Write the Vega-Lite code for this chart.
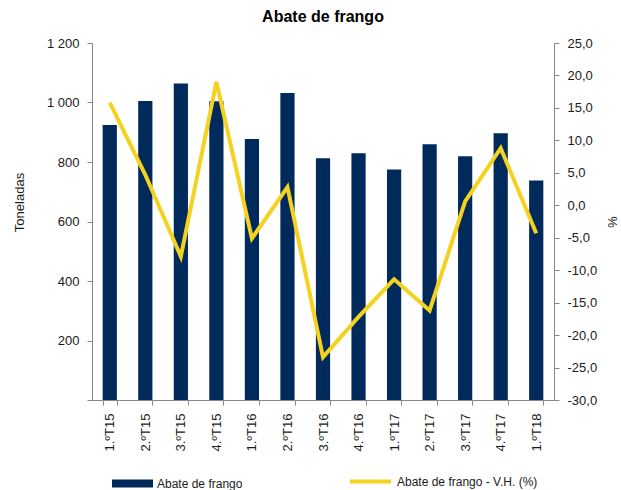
{
  "$schema": "https://vega.github.io/schema/vega-lite/v6.json",
  "autosize": {"type": "none"},
  "width": 462,
  "height": 357,
  "padding": {"left": 92, "top": 43, "right": 67, "bottom": 90},
  "title": {"text": "Abate de frango", "fontSize": 16, "fontWeight": "bold", "font": "Liberation Sans", "anchor": "middle", "frame": "group", "offset": 12, "color": "#000000"},
  "config": {
    "view": {"stroke": null},
    "font": "Liberation Sans",
    "axis": {"domainColor": "#888888", "tickColor": "#888888", "labelColor": "#1a1a1a", "labelFontSize": 13, "labelFont": "Liberation Sans", "titleFont": "Liberation Sans", "titleFontWeight": "normal", "titleFontSize": 13, "titleColor": "#1a1a1a", "grid": false, "tickSize": 5, "labelPadding": 8}
  },
  "data": {"values": [
    {"q": "1.ºT15", "ton": 924, "vh": 15.8},
    {"q": "2.ºT15", "ton": 1005, "vh": 4.7},
    {"q": "3.ºT15", "ton": 1064, "vh": -7.9},
    {"q": "4.ºT15", "ton": 1004, "vh": 19.0},
    {"q": "1.ºT16", "ton": 877, "vh": -5.1},
    {"q": "2.ºT16", "ton": 1032, "vh": 2.8},
    {"q": "3.ºT16", "ton": 813, "vh": -23.4},
    {"q": "4.ºT16", "ton": 829, "vh": -17.2},
    {"q": "1.ºT17", "ton": 775, "vh": -11.4},
    {"q": "2.ºT17", "ton": 860, "vh": -16.2},
    {"q": "3.ºT17", "ton": 819, "vh": 0.6},
    {"q": "4.ºT17", "ton": 897, "vh": 8.8},
    {"q": "1.ºT18", "ton": 738, "vh": -4.3}
  ]},
  "encoding": {
    "x": {"field": "q", "type": "nominal", "sort": null,
      "scale": {"paddingInner": 0.6, "paddingOuter": 0.3},
      "axis": {"title": null, "labelAngle": 270, "tickBand": "extent", "labelPadding": 8, "tickSize": 5}}
  },
  "layer": [
    {
      "mark": {"type": "bar"},
      "encoding": {
        "y": {"field": "ton", "type": "quantitative",
          "scale": {"domain": [0, 1200], "nice": false},
          "axis": {"title": "Toneladas", "values": [0, 200, 400, 600, 800, 1000, 1200], "labelExpr": "datum.value == 0 ? '' : replace(format(datum.value, ','), ',', ' ')", "titlePadding": 20, "titleY": 159}},
        "fill": {"datum": "Abate de frango", "type": "nominal",
          "scale": {"range": ["#002A5C"]},
          "legend": {"title": null, "orient": "none", "legendX": 20, "legendY": 420, "symbolType": "M-1,-0.2H1V0.2H-1Z", "symbolSize": 1681, "symbolStrokeWidth": 0, "labelFontSize": 12, "labelColor": "#1a1a1a", "labelOffset": 4, "padding": 0}}
      }
    },
    {
      "mark": {"type": "line", "strokeWidth": 4},
      "encoding": {
        "y": {"field": "vh", "type": "quantitative",
          "scale": {"domain": [-30, 25], "nice": false, "zero": false},
          "axis": {"title": "%", "orient": "right", "values": [-30, -25, -20, -15, -10, -5, 0, 5, 10, 15, 20, 25], "labelExpr": "replace(replace(format(datum.value, '.1f'), '.', ','), '\u2212', '-')", "titlePadding": 8}},
        "stroke": {"datum": "Abate de frango - V.H. (%)", "type": "nominal",
          "scale": {"range": ["#F4D21F"]},
          "legend": {"title": null, "orient": "none", "legendX": 256, "legendY": 416, "symbolType": "stroke", "symbolSize": 1681, "symbolStrokeWidth": 4, "labelFontSize": 12, "labelColor": "#1a1a1a", "labelOffset": 4, "padding": 0}}
      }
    }
  ],
  "resolve": {"scale": {"y": "independent"}}
}
